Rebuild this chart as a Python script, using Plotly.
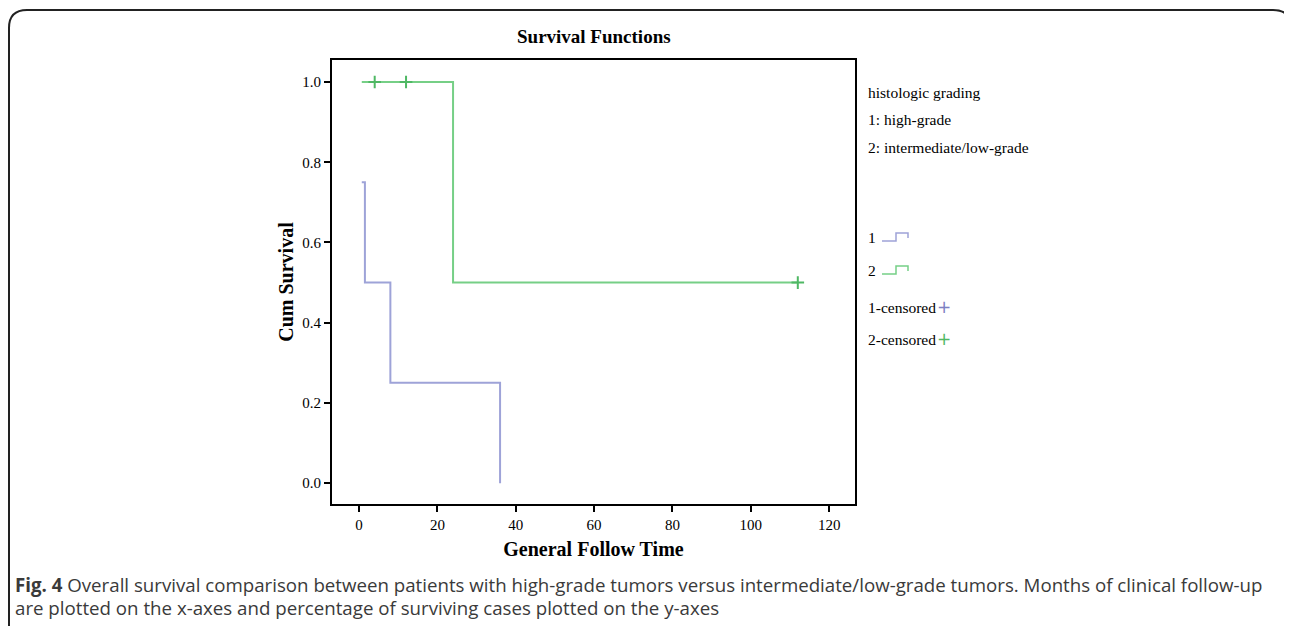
import plotly.graph_objects as go

# ---- data ----
g1_time = [0.7, 1.5, 8, 36]
g1_surv = [0.75, 0.5, 0.25, 0.0]
g2_time = [0.7, 24, 112]
g2_surv = [1.0, 0.5, 0.5]
g2_cens_time = [4, 12, 112]
g2_cens_surv = [1.0, 1.0, 0.5]
x_ticks = [0, 20, 40, 60, 80, 100, 120]
y_ticks = [0.0, 0.2, 0.4, 0.6, 0.8, 1.0]

OFF = 8  # page body margin
W, H = 1292 - OFF, 626 - OFF
L, R, T, B = 332 - OFF, 855 - OFF, 60 - OFF, 504 - OFF

def px(x):
    return (x - OFF - L) / (R - L)

def py(y):
    return (B - (y - OFF)) / (B - T)

C1 = "#9ea3d8"
C2 = "#76cf86"
C1c = "#7d80c2"
C2c = "#4fb864"
SERIF = "Liberation Serif"

fig = go.Figure()
fig.add_trace(go.Scatter(x=g1_time, y=g1_surv, mode="lines", line=dict(color=C1, width=2, shape="hv"),
                         showlegend=False, hoverinfo="skip"))
fig.add_trace(go.Scatter(x=g2_time, y=g2_surv, mode="lines", line=dict(color=C2, width=2, shape="hv"),
                         showlegend=False, hoverinfo="skip"))
fig.add_trace(go.Scatter(x=g2_cens_time, y=g2_cens_surv, mode="markers",
                         marker=dict(symbol="cross-thin", size=9, line=dict(color=C2c, width=2)),
                         showlegend=False, hoverinfo="skip"))

axis_common = dict(showline=True, linecolor="black", linewidth=2, mirror=True,
                   ticks="outside", ticklen=6, tickwidth=2, tickcolor="black",
                   showgrid=False, zeroline=False,
                   tickfont=dict(family=SERIF, size=15, color="black"))

fig.update_xaxes(range=[-6.9, 126.6], tickvals=x_ticks, **axis_common,
                 title=dict(text="<b>General Follow Time</b>", font=dict(family=SERIF, size=20, color="black"),
                            standoff=10))
fig.update_yaxes(range=[-0.052, 1.055], tickvals=y_ticks, tickformat=".1f", **axis_common,
                 title=dict(text="<b>Cum Survival</b>", font=dict(family=SERIF, size=20, color="black"),
                            standoff=3))

ann = []
ann.append(dict(text="<b>Survival Functions</b>", x=0.5, y=py(37), xref="paper", yref="paper",
                yanchor="middle", showarrow=False, font=dict(family=SERIF, size=19, color="black")))
leg_items = [("histologic grading", 92), ("1: high-grade", 120), ("2: intermediate/low-grade", 147),
             ("1", 237), ("2", 270), ("1-censored", 307), ("2-censored", 339)]
for txt, yy in leg_items:
    ann.append(dict(text=txt, x=px(866), y=py(yy), xref="paper", yref="paper", xanchor="left",
                    yanchor="middle", showarrow=False, font=dict(family=SERIF, size=15.5, color="black")))
# censored plus symbols in legend
for col, yy in [(C1c, 307), (C2c, 339)]:
    ann.append(dict(text="+", x=px(944), y=py(yy), xref="paper", yref="paper", xanchor="center",
                    yanchor="middle", showarrow=False, font=dict(family="DejaVu Sans", size=17, color=col)))
# caption
ann.append(dict(text="<b>Fig. 4</b> Overall survival comparison between patients with high-grade tumors versus "
                     "intermediate/low-grade tumors. Months of clinical follow-up",
                x=px(13), y=py(584), xref="paper", yref="paper", xanchor="left", yanchor="middle",
                showarrow=False, font=dict(family="Open Sans", size=18.7, color="#3a3a3a")))
ann.append(dict(text="are plotted on the x-axes and percentage of surviving cases plotted on the y-axes",
                x=px(13), y=py(607), xref="paper", yref="paper", xanchor="left", yanchor="middle",
                showarrow=False, font=dict(family="Open Sans", size=18.7, color="#3a3a3a")))

shapes = []
# legend step icons
for col, yy in [(C1, 237), (C2, 270)]:
    path = (f"M {px(882)} {py(yy+4)} L {px(896)} {py(yy+4)} L {px(896)} {py(yy-4)} "
            f"L {px(908)} {py(yy-4)} L {px(908)} {py(yy+1)}")
    shapes.append(dict(type="path", path=path, xref="paper", yref="paper", line=dict(color=col, width=1.5)))
# outer rounded frame
fp = (f"M {px(9)} {py(640)} L {px(9)} {py(28)} Q {px(9)} {py(10)} {px(27)} {py(10)} "
      f"L {px(1273)} {py(10)} Q {px(1291)} {py(10)} {px(1291)} {py(28)} L {px(1291)} {py(640)}")
shapes.append(dict(type="path", path=fp, xref="paper", yref="paper", line=dict(color="#222222", width=2)))

fig.update_layout(width=W, height=H, margin=dict(l=L, r=W - R, t=T, b=H - B),
                  plot_bgcolor="white", paper_bgcolor="white", annotations=ann, shapes=shapes,
                  showlegend=False)
fig.write_html("out.html")
